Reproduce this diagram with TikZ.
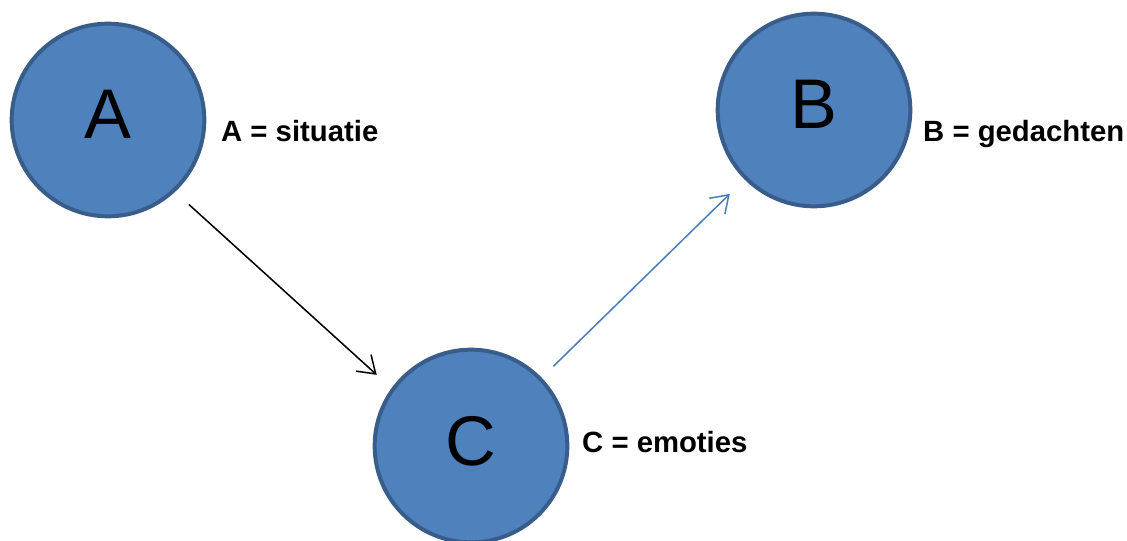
\documentclass[tikz,border=0pt]{standalone}
\usepackage{fontspec}
\setmainfont{Liberation Sans}
\usepackage{tikz}
\usetikzlibrary{arrows.meta}
\definecolor{fillblue}{HTML}{4F81BD}
\definecolor{edgeblue}{HTML}{385D8A}
\definecolor{arrowblue}{HTML}{4A7EBB}

\begin{document}
\begin{tikzpicture}[x=0.03cm,y=-0.03cm,
  circ/.style={circle,draw=edgeblue,fill=fillblue,line width=3.4pt,
    inner sep=0pt,minimum size=5.78cm},
  big/.style={inner sep=0pt,font=\fontsize{60}{60}\selectfont},
  lbl/.style={anchor=base west,inner sep=0pt,font=\fontsize{25}{26}\selectfont\bfseries},
  conn/.style={line width=1.3pt,-{Straight Barb[length=14pt,width=19pt,line width=1.3pt]}}]

  \useasboundingbox (0,0) rectangle (1127,541);

  \node[circ] (A) at (108,120) {};
  \node[big] (ta) at (108,114) {A};
  \node[lbl] (la) at (221,142) {A = situatie};

  \node[circ] (B) at (814,110) {};
  \node[big] (tb) at (814,104) {B};
  \node[lbl] (lb) at (923,142) {B = gedachten};

  \node[circ] (C) at (471,446) {};
  \node[big] (tc) at (471,441) {C};
  \node[lbl] (lc) at (582,452) {C = emoties};

  \draw[conn,shorten <=16pt,shorten >=17pt] (A.-47) -- (C.144);
  \draw[conn,arrowblue,shorten <=14pt,shorten >=17.5pt] (C.44) -- (B.225);

\end{tikzpicture}
\end{document}
